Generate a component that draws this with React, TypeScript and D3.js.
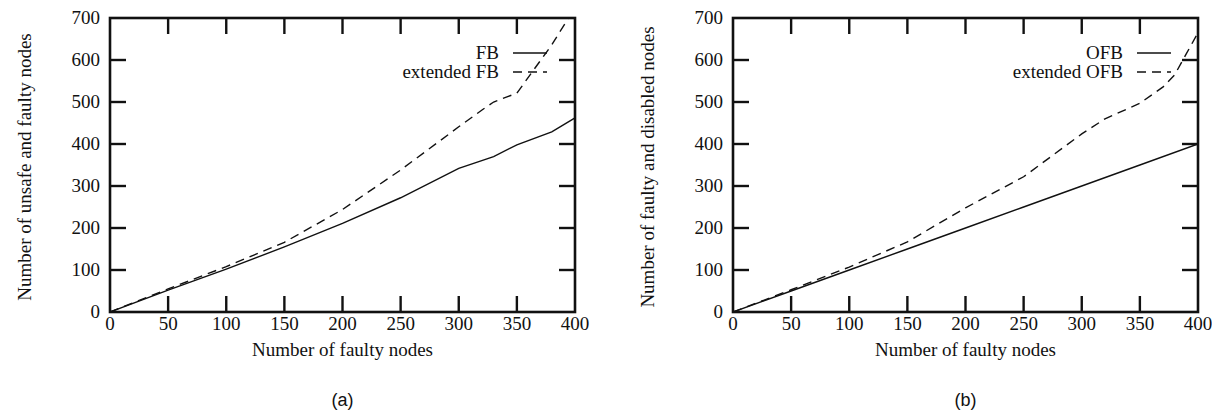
import React from "react";
import * as d3 from "d3";

const xTicks = [0, 50, 100, 150, 200, 250, 300, 350, 400];
const yTicks = [0, 100, 200, 300, 400, 500, 600, 700];

const fbX = [0, 50, 100, 150, 200, 250, 300, 330, 350, 380, 400];
const fbY = [0, 52, 102, 155, 211, 272, 342, 370, 398, 429, 462];
const extFbX = [0, 50, 100, 150, 200, 250, 300, 320, 330, 350, 380, 400];
const extFbY = [0, 55, 108, 166, 244, 338, 441, 481, 500, 521, 636, 725];

const ofbX = [0, 50, 100, 150, 200, 250, 300, 350, 400];
const ofbY = [0, 50, 100, 150, 200, 250, 300, 350, 400];
const extOfbX = [0, 50, 100, 150, 200, 250, 300, 320, 350, 370, 380, 390, 400];
const extOfbY = [0, 53, 107, 167, 248, 322, 424, 460, 497, 536, 565, 615, 665];

const W = 1212;
const H = 415;
const serif = "Liberation Serif, Times New Roman, serif";
const ink = "#111";
const tickLen = 16;

type Series = { name: string; xs: number[]; ys: number[]; dash?: string };

function Panel(props: {
  id: string;
  left: number;
  right: number;
  yLabel: string;
  caption: string;
  series: Series[];
  legendEnd: number;
}) {
  const { id, left, right, yLabel, caption, series, legendEnd } = props;
  const top = 18;
  const bottom = 312;

  const x = d3.scaleLinear().domain([0, 400]).range([left, right]);
  const y = d3.scaleLinear().domain([0, 700]).range([bottom, top]);

  const line = d3
    .line<[number, number]>()
    .x((d) => x(d[0]))
    .y((d) => y(d[1]));

  const midX = (left + right) / 2;
  const txt = { fontFamily: serif, fontSize: "19px" };

  return (
    <g>
      <defs>
        <clipPath id={"clip-" + id}>
          <rect x={left} y={top} width={right - left} height={bottom - top} />
        </clipPath>
      </defs>

      {/* data */}
      <g clipPath={`url(#clip-${id})`}>
        {series.map((s) => (
          <path
            key={s.name}
            d={line(s.xs.map((v, i) => [v, s.ys[i]]) as [number, number][]) || ""}
            fill="none"
            stroke={ink}
            strokeWidth={1.4}
            strokeDasharray={s.dash}
          />
        ))}
      </g>

      {/* ticks on all four sides */}
      {xTicks.slice(1, -1).map((t) => (
        <g key={"xt" + t} stroke={ink} strokeWidth={2.4}>
          <line x1={x(t)} x2={x(t)} y1={bottom} y2={bottom - tickLen} />
          <line x1={x(t)} x2={x(t)} y1={top} y2={top + tickLen} />
        </g>
      ))}
      {yTicks.slice(1, -1).map((t) => (
        <g key={"yt" + t} stroke={ink} strokeWidth={2.4}>
          <line x1={left} x2={left + tickLen} y1={y(t)} y2={y(t)} />
          <line x1={right} x2={right - tickLen} y1={y(t)} y2={y(t)} />
        </g>
      ))}
      <rect
        x={left}
        y={top}
        width={right - left}
        height={bottom - top}
        fill="none"
        stroke={ink}
        strokeWidth={2.6}
      />

      {/* tick labels */}
      <g style={txt} fill={ink}>
        {xTicks.map((t) => (
          <text key={"xl" + t} x={x(t)} y={330} textAnchor="middle">
            {t}
          </text>
        ))}
        {yTicks.map((t) => (
          <text key={"yl" + t} x={left - 10} y={y(t)} dy="0.33em" textAnchor="end">
            {t}
          </text>
        ))}
        <text x={midX} y={356} textAnchor="middle">
          Number of faulty nodes
        </text>
        <text
          transform={`translate(${left - 79},167) rotate(-90)`}
          textAnchor="middle"
        >
          {yLabel}
        </text>

        {/* legend */}
        {series.map((s, i) => (
          <g key={"lg" + s.name}>
            <text x={legendEnd} y={53 + i * 19} dy="0.33em" textAnchor="end">
              {s.name}
            </text>
            <line
              x1={legendEnd + 14}
              x2={legendEnd + 48}
              y1={53 + i * 19}
              y2={53 + i * 19}
              stroke={ink}
              strokeWidth={1.4}
              strokeDasharray={s.dash}
            />
          </g>
        ))}
      </g>

      <text
        x={midX}
        y={406}
        textAnchor="middle"
        style={{ fontFamily: "Liberation Sans, Arial, sans-serif", fontSize: "18px" }}
        fill={ink}
      >
        {caption}
      </text>
    </g>
  );
}

export default function App() {
  return (
    <svg
      width={W}
      height={H}
      viewBox={`0 0 ${W} ${H}`}
      style={{ position: "absolute", left: 0, top: 0, background: "#fff" }}
    >
      <rect width={W} height={H} fill="#fff" />
      <Panel
        id="a"
        left={110}
        right={575}
        yLabel="Number of unsafe and faulty nodes"
        caption="(a)"
        legendEnd={499}
        series={[
          { name: "FB", xs: fbX, ys: fbY },
          { name: "extended FB", xs: extFbX, ys: extFbY, dash: "9,6" },
        ]}
      />
      <Panel
        id="b"
        left={733}
        right={1198}
        yLabel="Number of faulty and disabled nodes"
        caption="(b)"
        legendEnd={1123}
        series={[
          { name: "OFB", xs: ofbX, ys: ofbY },
          { name: "extended OFB", xs: extOfbX, ys: extOfbY, dash: "9,6" },
        ]}
      />
    </svg>
  );
}
